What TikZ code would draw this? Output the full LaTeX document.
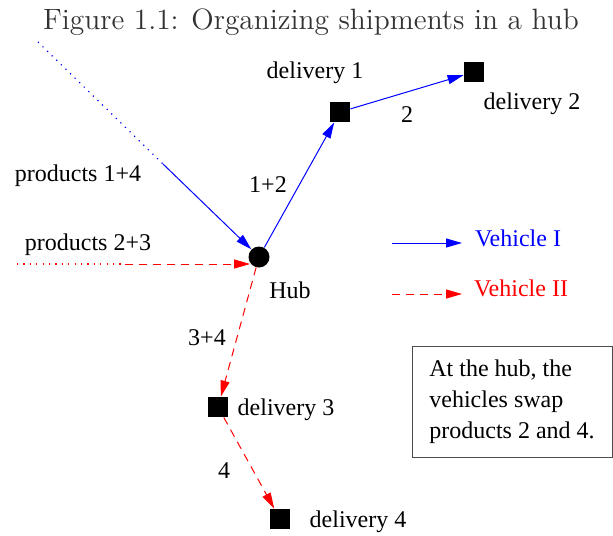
\documentclass[tikz,border=0pt]{standalone}
\usepackage{fontspec}
\newfontfamily\timesfont{Liberation Serif}
\usetikzlibrary{arrows.meta}

\begin{document}
\begin{tikzpicture}[x=0.5pt,y=-0.5pt,
		every node/.style={font=\timesfont\fontsize{12}{15.5}\selectfont},
		delnode/.style={rectangle, fill=black, minimum size=10pt, inner sep=0pt},
		hubnode/.style={circle, fill=black, minimum size=10.5pt, inner sep=0pt},
		vone/.style={blue, line width=0.5pt, -{Triangle[length=8pt,width=4.5pt]}},
		vtwo/.style={red, line width=0.5pt, dash pattern=on 4pt off 3pt, -{Triangle[length=8pt,width=4.5pt]}},
		feed/.style={line width=0.6pt, dash pattern=on 0.6pt off 2.6pt},
		notebox/.style={draw=black!70, line width=0.5pt, align=left, minimum width=100pt, minimum height=55.5pt},
		]
		\useasboundingbox (0,0) rectangle (613,535);
		%Nodes
		\node[font=\rmfamily\fontsize{14.7}{17}\selectfont, text=black!80] (title) at (311,22) {Figure 1.1: Organizing shipments in a hub};
		\node[hubnode] (hub) at (259,257) {};
		\node[delnode] (d1) at (340,112) {};
		\node[delnode] (d2) at (474,72) {};
		\node[delnode] (d3) at (218,407) {};
		\node[delnode] (d4) at (280,519) {};
		\coordinate (p14a) at (38,42);
		\coordinate (p14b) at (163,164);
		\coordinate (p23a) at (17,264);
		\coordinate (p23b) at (125,264);
		\coordinate (l1a) at (392,243);
		\coordinate (l1b) at (462,243);
		\coordinate (l2a) at (392,294);
		\coordinate (l2b) at (462,294);
		
		%Labels
		\node (lp14) at (78,176) {products 1+4};
		\node (lp23) at (88,245) {products 2+3};
		\node (lhub) at (290,290) {Hub};
		\node (ld1) at (315,73) {delivery 1};
		\node (ld2) at (532,104) {delivery 2};
		\node (ld3) at (286,410) {delivery 3};
		\node (ld4) at (358,522) {delivery 4};
		\node (l12) at (268,185) {1+2};
		\node (l2) at (407,115) {2};
		\node (l34) at (207,338) {3+4};
		\node (l4) at (224,471) {4};
		\node[text=blue] (lv1) at (518,238) {Vehicle I};
		\node[text=red] (lv2) at (521,288) {Vehicle II};
		\node[notebox] (note) at (512,401.5) {At the hub, the\\vehicles swap\\products 2 and 4.};
		
		%Lines
		\draw[feed,blue] (p14a) -- (p14b);
		\draw[vone] (p14b) -- (hub.135);
		\draw[feed,red] (p23a) -- (p23b);
		\draw[vtwo] (p23b) -- (p23b -| hub.215);
		\draw[vone] (hub) -- (d1);
		\draw[vone] (d1) -- (d2);
		\draw[vtwo] (hub) -- (d3);
		\draw[vtwo] (d3) -- (d4);
		\draw[vone] (l1a) -- (l1b);
		\draw[vtwo] (l2a) -- (l2b);
\end{tikzpicture}
\end{document}
